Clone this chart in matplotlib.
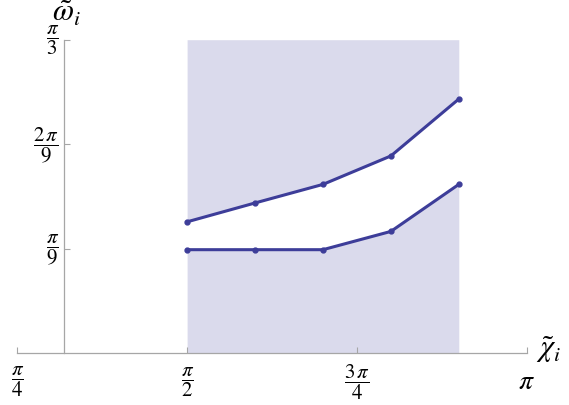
import numpy as np
import matplotlib
matplotlib.use("Agg")
import matplotlib.pyplot as plt

plt.rcParams['mathtext.fontset'] = 'stix'
plt.rcParams['font.family'] = ['STIXGeneral', 'DejaVu Serif']

# data (radians)
chi = [np.pi/2, 0.6*np.pi, 0.7*np.pi, 0.8*np.pi, 0.9*np.pi]
omega_upper = [0.439, 0.502, 0.564, 0.659, 0.849]
omega_lower = [0.346, 0.346, 0.346, 0.407, 0.564]

xticks = [np.pi/4, np.pi/2, 3*np.pi/4, np.pi]
xticklabels = [r'$\dfrac{\pi}{4}$', r'$\dfrac{\pi}{2}$', r'$\dfrac{3\,\pi}{4}$', r'$\pi$']
yticks = [np.pi/9, 2*np.pi/9, np.pi/3]
yticklabels = [r'$\dfrac{\pi}{9}$', r'$\dfrac{2\,\pi}{9}$', r'$\dfrac{\pi}{3}$']

line_color = '#3d3d99'
fill_color = '#dadaec'
axis_color = '#a6a6a6'

fig = plt.figure(figsize=(5.69, 4.06), dpi=100)
ax = fig.add_axes([17.3/569, (406-354.3)/406, (526.7-17.3)/569, (354.3-40.7)/406])
ax.set_xlim(np.pi/4, np.pi)
ax.set_ylim(0, np.pi/3)

top = np.pi/3
ax.fill_between(chi, omega_upper, top, color=fill_color, lw=0)
ax.fill_between(chi, 0, omega_lower, color=fill_color, lw=0)

for s in (omega_upper, omega_lower):
    ax.plot(chi, s, color=line_color, lw=2.2, marker='o', ms=3.5, zorder=3,
            solid_capstyle='round', solid_joinstyle='round', clip_on=False)

for side in ('top', 'right'):
    ax.spines[side].set_visible(False)
ax.spines['left'].set_position(('data', 1.0))
ax.spines['left'].set_color(axis_color)
ax.spines['bottom'].set_color(axis_color)
ax.spines['left'].set_linewidth(0.9)
ax.spines['bottom'].set_linewidth(0.9)

ax.set_xticks(xticks)
ax.set_xticklabels(xticklabels, fontsize=15)
ax.set_yticks(yticks)
ax.set_yticklabels(yticklabels, fontsize=15)
ax.tick_params(axis='x', direction='in', length=4, color=axis_color, pad=20)
ax.tick_params(axis='y', direction='in', length=4, color=axis_color, pad=3)
for lab in ax.get_xticklabels():
    lab.set_va('center')
ax.get_xticklabels()[-1].set_fontsize(20)
for lab in ax.get_yticklabels():
    lab.set_va('center')

fig.text(67/569, 1-14/406, r'$\tilde{\omega}_i$', fontsize=22, ha='center', va='center')
fig.text(549/569, 1-350/406, r'$\tilde{\chi}_i$', fontsize=22, ha='center', va='center')

fig.savefig('out.png', dpi=100)
